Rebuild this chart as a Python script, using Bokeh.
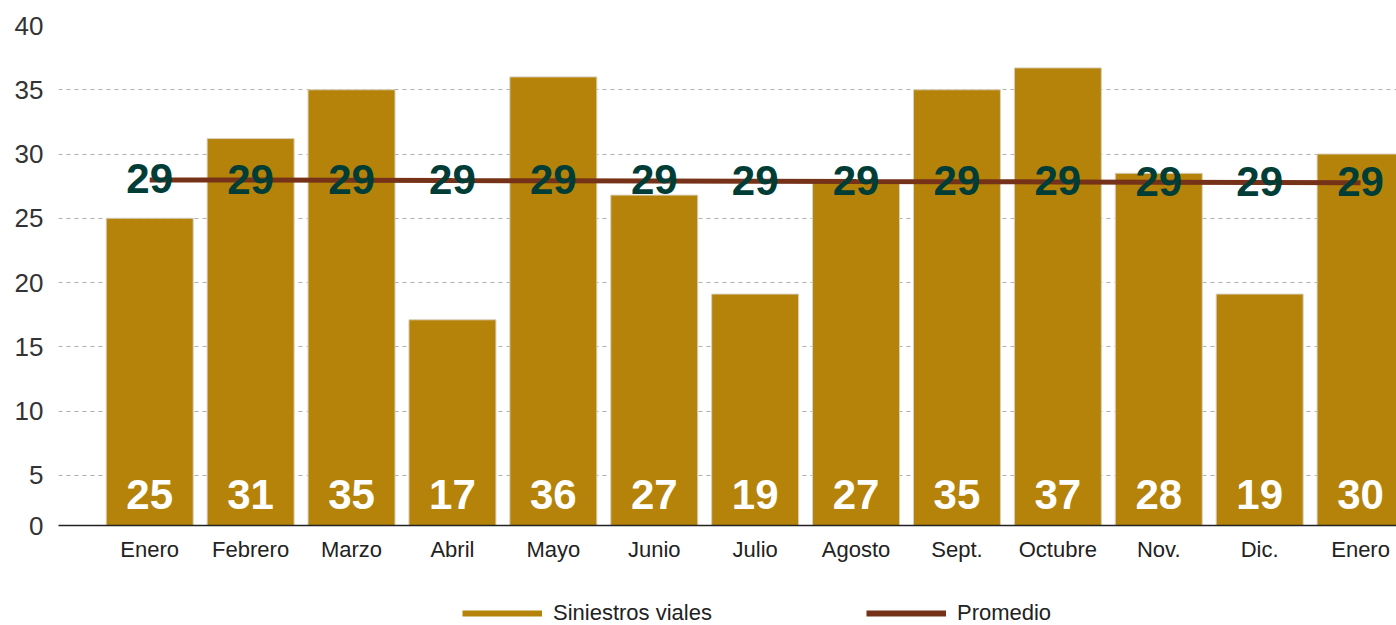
from bokeh.plotting import figure
from bokeh.layouts import column
from bokeh.models import ColumnDataSource, FixedTicker, Range1d, Legend, LegendItem
from bokeh.core.properties import value
from bokeh.embed import file_html
from bokeh.resources import INLINE

months = ["Enero", "Febrero", "Marzo", "Abril", "Mayo", "Junio", "Julio",
          "Agosto", "Sept.", "Octubre", "Nov.", "Dic.", "Enero"]
siniestros = [25.0, 31.2, 35.0, 17.1, 36.0, 26.8, 19.1, 27.8, 35.0, 36.7, 28.5, 19.1, 30.0]
siniestros_labels = ["25", "31", "35", "17", "36", "27", "19", "27", "35", "37", "28", "19", "30"]
promedio = [27.98, 27.97, 27.96, 27.93, 27.92, 27.90, 27.88, 27.86, 27.85, 27.83, 27.81, 27.78, 27.76]
promedio_labels = ["29"] * 13
y_ticks = [5, 10, 15, 20, 25, 30, 35, 40]
series_names = ["Siniestros viales", "Promedio"]

GOLD = "#b5830a"
BROWN = "#763219"
GREEN = "#003d36"
FONT = "Liberation Sans"

xs = list(range(len(months)))
src = ColumnDataSource(dict(x=xs, s=siniestros, sl=siniestros_labels,
                            pr=promedio, pl=promedio_labels,
                            low=[3.5] * len(xs)))

Y0 = 1.09
p = figure(width=1396, height=590, output_backend="svg", toolbar_location=None,
           x_range=Range1d(-0.904, 12.356), y_range=Range1d(Y0, 40),
           min_border_left=58, min_border_right=0, min_border_top=25,
           min_border_bottom=65)
p.outline_line_color = None
p.background_fill_color = "white"

p.vbar(x="x", top="s", bottom=0, width=0.862, source=src,
       fill_color=GOLD, line_color="#d8d0c0", line_width=1)
p.line(x="x", y="pr", source=src, line_color=BROWN, line_width=5)

p.text(x="x", y="pr", text="pl", source=src, text_font=value(FONT),
       text_font_style="bold", text_font_size="42px", text_color=GREEN,
       text_align="center", text_baseline="middle", y_offset=-1)
p.text(x="x", y="low", text="sl", source=src, text_font=value(FONT),
       text_font_style="bold", text_font_size="42px", text_color="white",
       text_align="center", text_baseline="middle")

# axes
p.xaxis.ticker = FixedTicker(ticks=xs)
p.xaxis.major_label_overrides = {i: m for i, m in enumerate(months)}
p.xaxis.major_tick_line_color = None
p.xaxis.minor_tick_line_color = None
p.xaxis.axis_line_color = "#222222"
p.xaxis.axis_line_width = 1.5
p.xaxis.major_label_text_font = FONT
p.xaxis.major_label_text_font_size = "22px"
p.xaxis.major_label_text_color = "#222222"
p.xaxis.major_label_standoff = 5

p.yaxis.ticker = FixedTicker(ticks=[Y0] + y_ticks)
p.yaxis.major_label_overrides = {Y0: "0"}
p.yaxis.axis_line_color = None
p.yaxis.major_tick_line_color = None
p.yaxis.minor_tick_line_color = None
p.yaxis.major_label_text_font = FONT
p.yaxis.major_label_text_font_size = "26px"
p.yaxis.major_label_text_color = "#333333"
p.yaxis.major_label_standoff = 9

p.xgrid.grid_line_color = None
p.ygrid.grid_line_color = "#b0b0b0"
p.ygrid.grid_line_dash = "4 4"
p.ygrid.grid_line_width = 1

# legend strip (frame is aligned with the main plot's frame by the column)
lg = figure(width=1396, height=35, output_backend="svg", toolbar_location=None,
            x_axis_location=None, y_axis_location=None,
            x_range=Range1d(0, 1), y_range=Range1d(0, 1),
            min_border_left=0, min_border_right=0, min_border_top=0,
            min_border_bottom=0)
lg.outline_line_color = None
lg.xgrid.grid_line_color = None
lg.ygrid.grid_line_color = None
proxy = ColumnDataSource(dict(x=[float("nan")], y=[float("nan")]))
r1 = lg.line(x="x", y="y", source=proxy, line_color=GOLD, line_width=6)
r2 = lg.line(x="x", y="y", source=proxy, line_color=BROWN, line_width=6)
legend = Legend(items=[LegendItem(label=series_names[0], renderers=[r1]),
                       LegendItem(label=series_names[1], renderers=[r2])],
                orientation="horizontal", location=(404, -1),
                glyph_width=80, glyph_height=20, label_standoff=11, spacing=154,
                padding=0, margin=0, border_line_color=None,
                background_fill_alpha=0,
                label_text_font=FONT, label_text_font_size="22px",
                label_text_color="#222222")
lg.add_layout(legend, "center")

layout = column(p, lg, spacing=0)
open("out.html", "w").write(file_html(layout, INLINE))
